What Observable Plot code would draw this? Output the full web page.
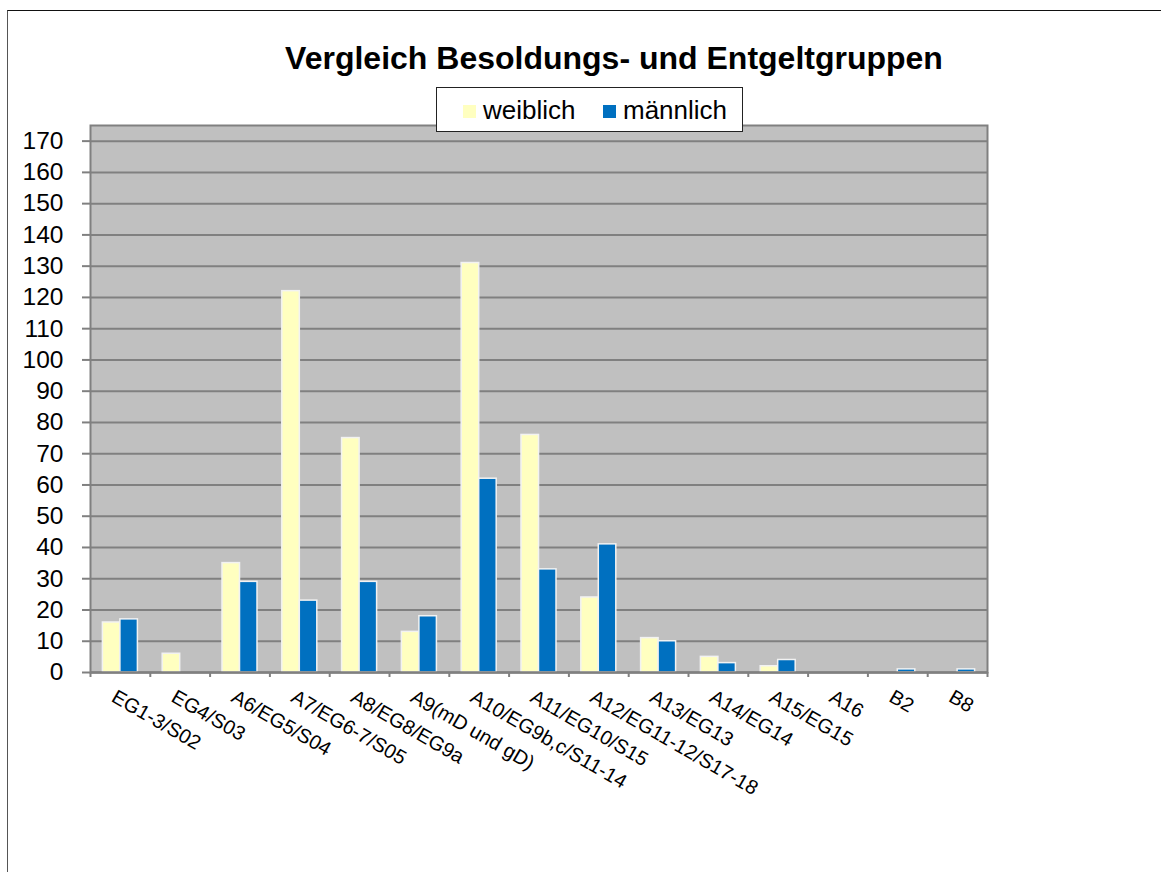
<!DOCTYPE html>
<html>
<head>
<meta charset="utf-8">
<script src="https://cdn.jsdelivr.net/npm/d3@7"></script>
<script src="https://cdn.jsdelivr.net/npm/@observablehq/plot@0.6"></script>
<style>
  html, body { margin: 0; padding: 0; background: #fff; }
  body { width: 1161px; height: 872px; overflow: hidden; position: relative;
         font-family: "Liberation Sans", Arial, sans-serif; }
  #frame { position: absolute; left: 7px; top: 10px; width: 1200px; height: 900px;
           border-left: 1.5px solid #555; border-top: 1.5px solid #111; }
  #chart { position: absolute; left: 0; top: 0; }
  #title { position: absolute; left: 614px; top: 40px; transform: translateX(-50%);
           font-size: 32px; font-weight: bold; white-space: nowrap; color: #000; }
  #legend { position: absolute; left: 436px; top: 87px; width: 307px; height: 45px;
            border: 1.5px solid #222; background: #fff; box-sizing: border-box; }
  .item { position: absolute; top: 7px; font-size: 26px; color: #000; white-space: nowrap; }
  .sw { display: inline-block; width: 13px; height: 13px; margin-right: 7px; vertical-align: 1px; }
</style>
</head>
<body>
<div id="frame"></div>
<div id="chart"></div>
<div id="title">Vergleich Besoldungs- und Entgeltgruppen</div>
<div id="legend"></div>
<script>
const categories = [
  "EG1-3/S02", "EG4/S03", "A6/EG5/S04", "A7/EG6-7/S05", "A8/EG8/EG9a",
  "A9(mD und gD)", "A10/EG9b,c/S11-14", "A11/EG10/S15", "A12/EG11-12/S17-18",
  "A13/EG13", "A14/EG14", "A15/EG15", "A16", "B2", "B8"
];
const weiblich = [16, 6, 35, 122, 75, 13, 131, 76, 24, 11, 5, 2, 0, 0, 0];
const maennlich = [17, 0, 29, 23, 29, 18, 62, 33, 41, 10, 3, 4, 0, 1, 1];
const seriesNames = ["weiblich", "männlich"];
const seriesColors = ["#FFFFC0", "#0070C0"];
const yTicks = d3.range(0, 171, 10);

const W = 1161, H = 872;
const mL = 90, mR = 174, mT = 125, mB = 200;
const bw = (W - mL - mR) / categories.length;

const rows = (vals, s) => categories.map((c, i) => ({cat: c, value: vals[i], series: s}))
  .filter(d => d.value > 0);
const dataW = rows(weiblich, seriesNames[0]);
const dataM = rows(maennlich, seriesNames[1]);

const chart = Plot.plot({
  width: W, height: H,
  marginLeft: mL, marginRight: mR, marginTop: mT, marginBottom: mB,
  style: {background: "transparent", fontFamily: "Liberation Sans, Arial, sans-serif"},
  x: {domain: categories, padding: 0, round: false, axis: null, label: null},
  y: {domain: [0, 175], axis: null, label: null},
  marks: [
    Plot.frame({fill: "#C0C0C0", stroke: "none"}),
    Plot.gridY(yTicks, {stroke: "#808080", strokeOpacity: 1, strokeWidth: 2}),
    Plot.barY(dataW, {x: "cat", y: "value", fill: seriesColors[0],
      stroke: "#F2F2F2", strokeWidth: 1.5, insetLeft: 12.4, insetRight: 29.9}),
    Plot.barY(dataM, {x: "cat", y: "value", fill: seriesColors[1],
      stroke: "#F2F2F2", strokeWidth: 1.5, insetLeft: 29.9, insetRight: 12.4}),
    Plot.frame({stroke: "#808080", strokeWidth: 2, fill: "none"}),
    Plot.ruleY([0], {stroke: "#808080", strokeWidth: 2}),
    Plot.axisY(yTicks, {tickSize: 8, tickPadding: 19, fontSize: 24.5, fill: "#000",
      stroke: "#808080", strokeWidth: 2, tickFormat: d => String(d), label: null}),
    Plot.ruleX(categories, {x: d => d, y1: 0, y2: 0, insetBottom: -5, dx: -bw / 2,
      stroke: "#808080", strokeWidth: 2}),
    Plot.ruleX(categories.slice(-1), {x: d => d, y1: 0, y2: 0, insetBottom: -5, dx: bw / 2,
      stroke: "#808080", strokeWidth: 2}),
    Plot.text(categories, {x: d => d, y: 0, text: d => d, rotate: 30,
      textAnchor: "start", lineAnchor: "top", dx: -3, dy: 16, fontSize: 20, fill: "#000"})
  ]
});
document.getElementById("chart").appendChild(chart);

const legend = document.getElementById("legend");
const itemLeft = [462 - 436, 602 - 436];
seriesNames.forEach((name, i) => {
  const it = document.createElement("div");
  it.className = "item";
  it.style.left = itemLeft[i] + "px";
  const sw = document.createElement("span");
  sw.className = "sw";
  sw.style.background = seriesColors[i];
  it.appendChild(sw);
  it.appendChild(document.createTextNode(name));
  legend.appendChild(it);
});
</script>
</body>
</html>
